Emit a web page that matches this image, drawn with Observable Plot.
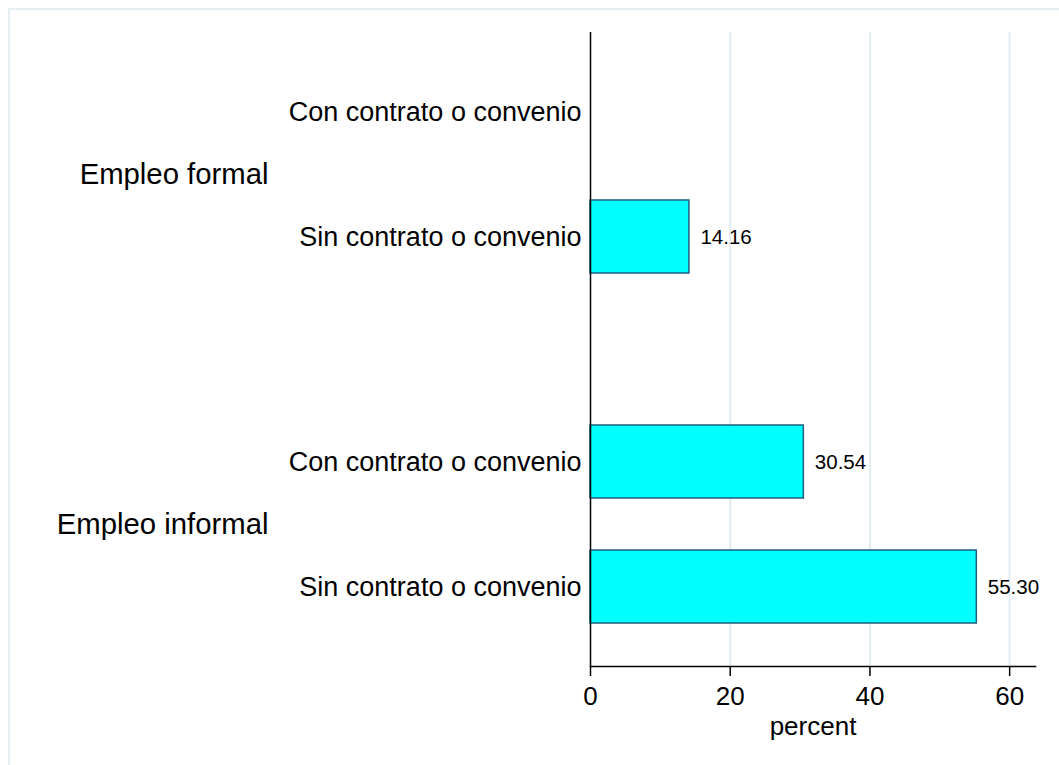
<!DOCTYPE html>
<html>
<head>
<meta charset="utf-8">
<script src="https://cdn.jsdelivr.net/npm/d3@7"></script>
<script src="https://cdn.jsdelivr.net/npm/@observablehq/plot@0.6"></script>
<style>
  html, body { margin: 0; padding: 0; background: white; }
  #wrap { position: relative; width: 1059px; height: 765px; overflow: hidden; }
  #frame { position: absolute; left: 8px; top: 8px; width: 1100px; height: 800px;
           border-left: 2px solid #e8eff2; border-top: 2px solid #e8eff2; pointer-events: none; }
  #chart { position: absolute; left: 0; top: 0; }
</style>
</head>
<body>
<div id="wrap"><div id="chart"></div><div id="frame"></div></div>
<script>
const groups = ["Empleo formal", "Empleo formal", "Empleo informal", "Empleo informal"];
const contracts = ["Con contrato o convenio", "Sin contrato o convenio", "Con contrato o convenio", "Sin contrato o convenio"];
const percents = [0, 14.16, 30.54, 55.30];
const groupOrder = ["Empleo formal", "Empleo informal"];
const contractOrder = ["Con contrato o convenio", "Sin contrato o convenio"];
const xTicks = [0, 20, 40, 60];

const rows = groups.map((g, i) => ({group: g, contract: contracts[i], value: percents[i]}));
const shown = rows.filter(d => d.value > 0);

// vertical lines: those in the upper facet extend across the gap between facets
const gridUpper = xTicks.slice(1).map(x => ({x, group: groupOrder[0]}));
const gridLower = xTicks.slice(1).map(x => ({x, group: groupOrder[1]}));
const axisUpper = [{x: 0, group: groupOrder[0]}];
const axisLower = [{x: 0, group: groupOrder[1]}];

const font = "'Liberation Sans', Arial, Helvetica, sans-serif";
const GAP = 66;

const chart = Plot.plot({
  width: 1059,
  height: 765,
  marginLeft: 590,
  marginRight: 24,
  marginTop: 31,
  marginBottom: 98,
  style: {background: "transparent", fontFamily: font, color: "black"},
  x: {domain: [0, 63.7]},
  y: {domain: contractOrder, paddingInner: 0.415, paddingOuter: 0.343},
  fy: {domain: groupOrder, paddingInner: 0.188, paddingOuter: 0},
  marks: [
    Plot.ruleX(gridUpper, {x: "x", fy: "group", insetBottom: -GAP, stroke: "#e4eef2", strokeWidth: 2}),
    Plot.ruleX(gridLower, {x: "x", fy: "group", stroke: "#e4eef2", strokeWidth: 2}),
    Plot.barX(shown, {x: "value", y: "contract", fy: "group", fill: "#00ffff", stroke: "#1f5f80", strokeWidth: 1.5}),
    Plot.text(shown, {x: "value", y: "contract", fy: "group", text: d => d.value.toFixed(2),
      textAnchor: "start", dx: 11, fontSize: 20.5, fill: "black"}),
    Plot.ruleX(axisUpper, {x: "x", fy: "group", insetBottom: -GAP, stroke: "black", strokeWidth: 1.5}),
    Plot.ruleX(axisLower, {x: "x", fy: "group", stroke: "black", strokeWidth: 1.5}),
    Plot.frame({anchor: "bottom", fy: [groupOrder[1]], stroke: "black", strokeWidth: 1.5}),
    Plot.axisY({anchor: "left", tickSize: 0, tickPadding: 9, fontSize: 27, label: null}),
    Plot.axisFy({anchor: "left", tickSize: 0, tickPadding: 322, fontSize: 29.3, label: null}),
    Plot.axisX({anchor: "bottom", ticks: xTicks, tickSize: 10, tickPadding: 10, fontSize: 26,
      label: "percent", labelAnchor: "center", labelArrow: "none", labelOffset: 68, strokeWidth: 1.5})
  ]
});
document.getElementById("chart").appendChild(chart);
</script>
</body>
</html>
